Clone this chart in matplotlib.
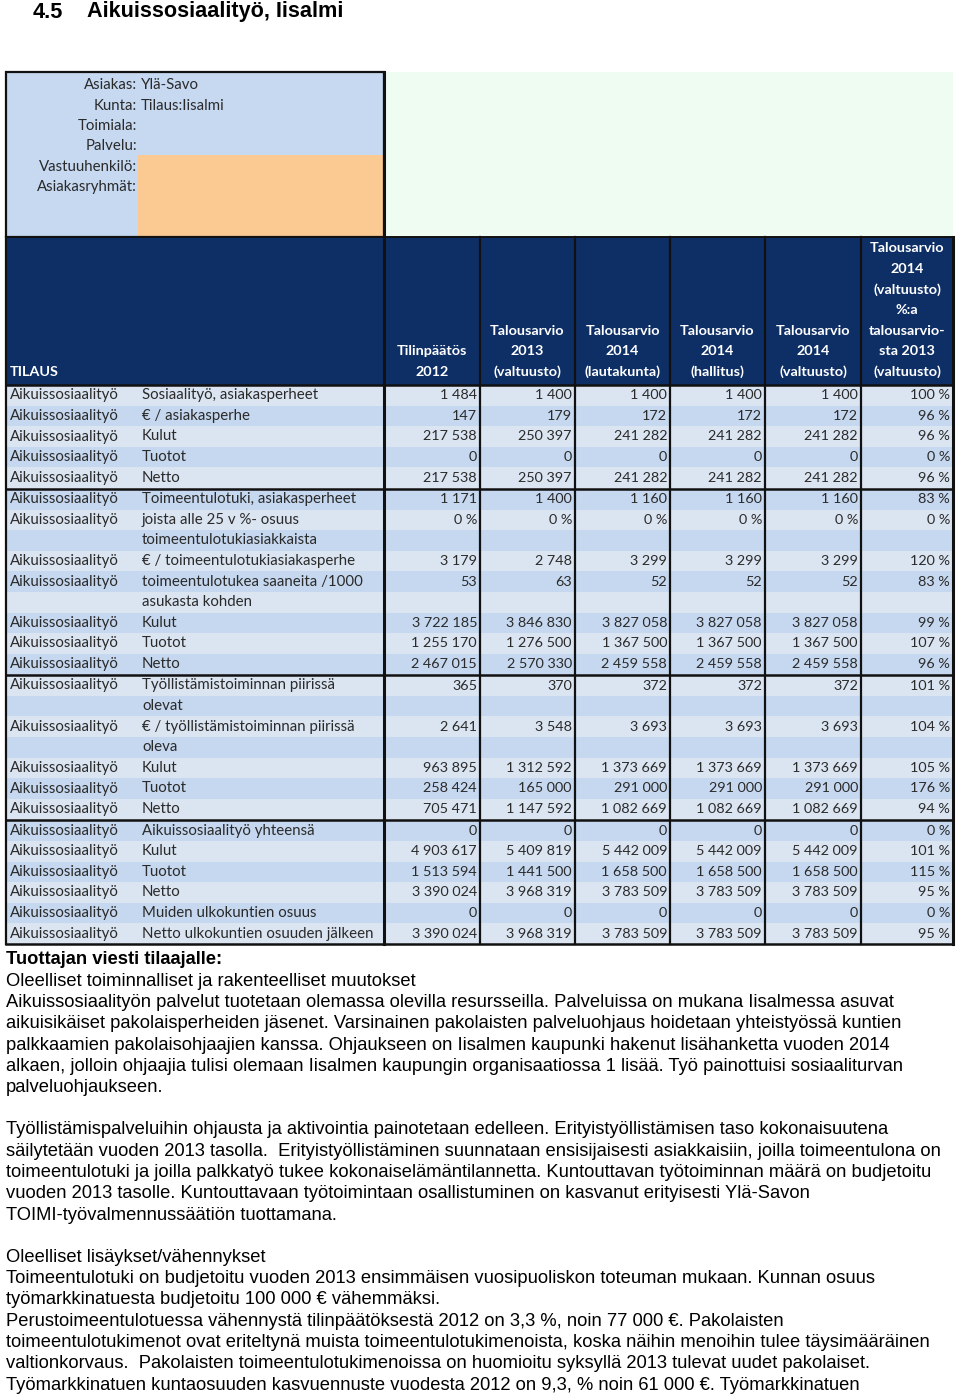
import matplotlib
matplotlib.use("Agg")
import matplotlib.pyplot as plt
from matplotlib.patches import Rectangle

# ---------------- data ----------------
title_num = "4.5"
title_text = "Aikuissosiaalityö, Iisalmi"

info_labels = ["Asiakas:", "Kunta:", "Toimiala:", "Palvelu:", "Vastuuhenkilö:", "Asiakasryhmät:"]
info_values = ["Ylä-Savo", "Tilaus:Iisalmi", "", "", "", ""]

header_first = "TILAUS"
col_headers = [
    "Tilinpäätös\n2012",
    "Talousarvio\n2013\n(valtuusto)",
    "Talousarvio\n2014\n(lautakunta)",
    "Talousarvio\n2014\n(hallitus)",
    "Talousarvio\n2014\n(valtuusto)",
    "Talousarvio\n2014\n(valtuusto)\n%:a\ntalousarvio-\nsta 2013\n(valtuusto)",
]

row_category = "Aikuissosiaalityö"
row_labels = [
    "Sosiaalityö, asiakasperheet", "€ / asiakasperhe", "Kulut", "Tuotot", "Netto",
    "Toimeentulotuki, asiakasperheet", "joista alle 25 v %- osuus\ntoimeentulotukiasiakkaista",
    "€ / toimeentulotukiasiakasperhe", "toimeentulotukea saaneita /1000\nasukasta kohden",
    "Kulut", "Tuotot", "Netto",
    "Työllistämistoiminnan piirissä\nolevat", "€ / työllistämistoiminnan piirissä\noleva",
    "Kulut", "Tuotot", "Netto",
    "Aikuissosiaalityö yhteensä", "Kulut", "Tuotot", "Netto",
    "Muiden ulkokuntien osuus", "Netto ulkokuntien osuuden jälkeen",
]
group_sizes = [5, 7, 5, 6]
percent_rows = [6]  # rows whose values are shown as percentages

tp_2012 = [1484, 147, 217538, 0, 217538, 1171, 0, 3179, 53, 3722185, 1255170, 2467015,
           365, 2641, 963895, 258424, 705471, 0, 4903617, 1513594, 3390024, 0, 3390024]
ta_2013 = [1400, 179, 250397, 0, 250397, 1400, 0, 2748, 63, 3846830, 1276500, 2570330,
           370, 3548, 1312592, 165000, 1147592, 0, 5409819, 1441500, 3968319, 0, 3968319]
ta_2014_lautakunta = [1400, 172, 241282, 0, 241282, 1160, 0, 3299, 52, 3827058, 1367500, 2459558,
                      372, 3693, 1373669, 291000, 1082669, 0, 5442009, 1658500, 3783509, 0, 3783509]
ta_2014_hallitus = [1400, 172, 241282, 0, 241282, 1160, 0, 3299, 52, 3827058, 1367500, 2459558,
                    372, 3693, 1373669, 291000, 1082669, 0, 5442009, 1658500, 3783509, 0, 3783509]
ta_2014_valtuusto = [1400, 172, 241282, 0, 241282, 1160, 0, 3299, 52, 3827058, 1367500, 2459558,
                     372, 3693, 1373669, 291000, 1082669, 0, 5442009, 1658500, 3783509, 0, 3783509]
pct_2014_vs_2013 = [100, 96, 96, 0, 96, 83, 0, 120, 83, 99, 107, 96,
                    101, 104, 105, 176, 94, 0, 101, 115, 95, 0, 95]

paragraph_lines = [
    ("Tuottajan viesti tilaajalle:", True),
    ("Oleelliset toiminnalliset ja rakenteelliset muutokset", False),
    ("Aikuissosiaalityön palvelut tuotetaan olemassa olevilla resursseilla. Palveluissa on mukana Iisalmessa asuvat", False),
    ("aikuisikäiset pakolaisperheiden jäsenet. Varsinainen pakolaisten palveluohjaus hoidetaan yhteistyössä kuntien", False),
    ("palkkaamien pakolaisohjaajien kanssa. Ohjaukseen on Iisalmen kaupunki hakenut lisähanketta vuoden 2014", False),
    ("alkaen, jolloin ohjaajia tulisi olemaan Iisalmen kaupungin organisaatiossa 1 lisää. Työ painottuisi sosiaaliturvan", False),
    ("palveluohjaukseen.", False),
    ("", False),
    ("Työllistämispalveluihin ohjausta ja aktivointia painotetaan edelleen. Erityistyöllistämisen taso kokonaisuutena", False),
    ("säilytetään vuoden 2013 tasolla.  Erityistyöllistäminen suunnataan ensisijaisesti asiakkaisiin, joilla toimeentulona on", False),
    ("toimeentulotuki ja joilla palkkatyö tukee kokonaiselämäntilannetta. Kuntouttavan työtoiminnan määrä on budjetoitu", False),
    ("vuoden 2013 tasolle. Kuntouttavaan työtoimintaan osallistuminen on kasvanut erityisesti Ylä-Savon", False),
    ("TOIMI-työvalmennussäätiön tuottamana.", False),
    ("", False),
    ("Oleelliset lisäykset/vähennykset", False),
    ("Toimeentulotuki on budjetoitu vuoden 2013 ensimmäisen vuosipuoliskon toteuman mukaan. Kunnan osuus", False),
    ("työmarkkinatuesta budjetoitu 100 000 € vähemmäksi.", False),
    ("Perustoimeentulotuessa vähennystä tilinpäätöksestä 2012 on 3,3 %, noin 77 000 €. Pakolaisten", False),
    ("toimeentulotukimenot ovat eriteltynä muista toimeentulotukimenoista, koska näihin menoihin tulee täysimääräinen", False),
    ("valtionkorvaus.  Pakolaisten toimeentulotukimenoissa on huomioitu syksyllä 2013 tulevat uudet pakolaiset.", False),
    ("Työmarkkinatuen kuntaosuuden kasvuennuste vuodesta 2012 on 9,3, % noin 61 000 €. Työmarkkinatuen", False),
]

# ---------------- styling / layout ----------------
W, H = 960, 1396
TFONT = "Lato"
PFONT = "Liberation Sans"
NAVY = "#0e2f66"
LIGHT_A = "#dbe5f2"
LIGHT_B = "#c6d8ef"
TXT = "#2a2a2a"
FS_LAB = 10.8
FS_NUM = 10.4
FS_HDR = 10.4
FS_PAR = 13.2

fig = plt.figure(figsize=(W / 100, H / 100), dpi=100)
ax = fig.add_axes([0, 0, 1, 1])
ax.set_xlim(0, W)
ax.set_ylim(H, 0)
ax.axis("off")

def fmt(v):
    return f"{v:,}".replace(",", " ")

# title
ax.text(33, 12, title_num, fontsize=15.6, fontweight="bold", family=PFONT, va="center", ha="left")
ax.text(87, 12, title_text, fontsize=15.6, fontweight="bold", family=PFONT, va="center", ha="left")

# table geometry
left, split = 6, 384
col_edges = [384, 480, 575, 670, 765, 861, 953]
top_box, header_top, body_top = 72, 237, 385
pitch = 20.6
gap = 0.9

# info box
ax.add_patch(Rectangle((left, top_box), split - left, header_top - top_box, facecolor="#c6d9f1", edgecolor="none"))
ax.add_patch(Rectangle((138, 155), split - 138, header_top - 155, facecolor="#fbc992", edgecolor="none"))
ax.add_patch(Rectangle((split, top_box), col_edges[-1] - split, header_top - top_box, facecolor="#effcf1", edgecolor="none"))
ax.add_patch(Rectangle((left, top_box), split - left, header_top - top_box, facecolor="none", edgecolor="#111111", lw=1.6))
for i, (lab, val) in enumerate(zip(info_labels, info_values)):
    y = 85 + i * 20.5
    ax.text(137, y, lab, fontsize=FS_LAB, family=TFONT, color=TXT, ha="right", va="center")
    if val:
        ax.text(141, y, val, fontsize=FS_LAB, family=TFONT, color=TXT, ha="left", va="center")

# header
ax.add_patch(Rectangle((left, header_top), col_edges[-1] - left, body_top - header_top, facecolor=NAVY, edgecolor="none"))
hdr_base = 372
ax.text(10, hdr_base, header_first, fontsize=FS_HDR, family=TFONT, fontweight="bold", color="white", ha="left", va="center")
for j, h in enumerate(col_headers):
    cx = (col_edges[j] + col_edges[j + 1]) / 2
    lines = h.split("\n")
    n = len(lines)
    for k, ln in enumerate(lines):
        ax.text(cx, hdr_base - (n - 1 - k) * pitch, ln, fontsize=FS_HDR, family=TFONT, fontweight="bold",
                color="white", ha="center", va="center")

# body
columns = [tp_2012, ta_2013, ta_2014_lautakunta, ta_2014_hallitus, ta_2014_valtuusto]
line_idx = 0
row_idx = 0
group_bounds = []
for g, gs in enumerate(group_sizes):
    g_start_y = body_top + line_idx * pitch + g * gap
    for r in range(gs):
        lab_lines = row_labels[row_idx].split("\n")
        for k, ln in enumerate(lab_lines):
            y0 = body_top + (line_idx + k) * pitch + g * gap
            shade = LIGHT_A if (line_idx + k) % 2 == 0 else LIGHT_B
            ax.add_patch(Rectangle((left, y0), col_edges[-1] - left, pitch + 0.5, facecolor=shade, edgecolor="none"))
            ax.text(142, y0 + pitch / 2, ln, fontsize=FS_LAB, family=TFONT, color=TXT, ha="left", va="center")
        yc = body_top + line_idx * pitch + g * gap + pitch / 2
        ax.text(10, yc, row_category, fontsize=FS_LAB, family=TFONT, color=TXT, ha="left", va="center")
        for j, col in enumerate(columns):
            v = col[row_idx]
            s = f"{v} %" if row_idx in percent_rows else fmt(v)
            ax.text(col_edges[j + 1] - 3, yc, s, fontsize=FS_NUM, family=TFONT, color=TXT, ha="right", va="center")
        ax.text(col_edges[6] - 3, yc, f"{pct_2014_vs_2013[row_idx]} %", fontsize=FS_NUM, family=TFONT,
                color=TXT, ha="right", va="center")
        line_idx += len(lab_lines)
        row_idx += 1
    g_end_y = body_top + line_idx * pitch + g * gap
    group_bounds.append((g_start_y, g_end_y))

body_bottom = group_bounds[-1][1]
# borders
for (ys, ye) in group_bounds:
    ax.plot([left, col_edges[-1]], [ys, ys], color="#111111", lw=1.8, solid_capstyle="butt")
ax.plot([left, col_edges[-1]], [body_bottom, body_bottom], color="#111111", lw=1.8)
ax.plot([left, left], [header_top, body_bottom], color="#111111", lw=1.6)
for j, x in enumerate(col_edges):
    ax.plot([x, x], [top_box if j == 0 else header_top, body_bottom], color="#111111",
            lw=2.2 if j in (0, len(col_edges) - 1) else 1.6)
ax.plot([left, col_edges[-1]], [header_top, header_top], color="#111111", lw=1.4)

# paragraphs
p_top = 960
p_pitch = 21.25
for i, (ln, bold) in enumerate(paragraph_lines):
    if ln:
        ax.text(6, p_top + i * p_pitch, ln, fontsize=FS_PAR, family=PFONT,
                fontweight="bold" if bold else "normal", color="black", ha="left", va="center")

fig.savefig("out.png", dpi=100)
